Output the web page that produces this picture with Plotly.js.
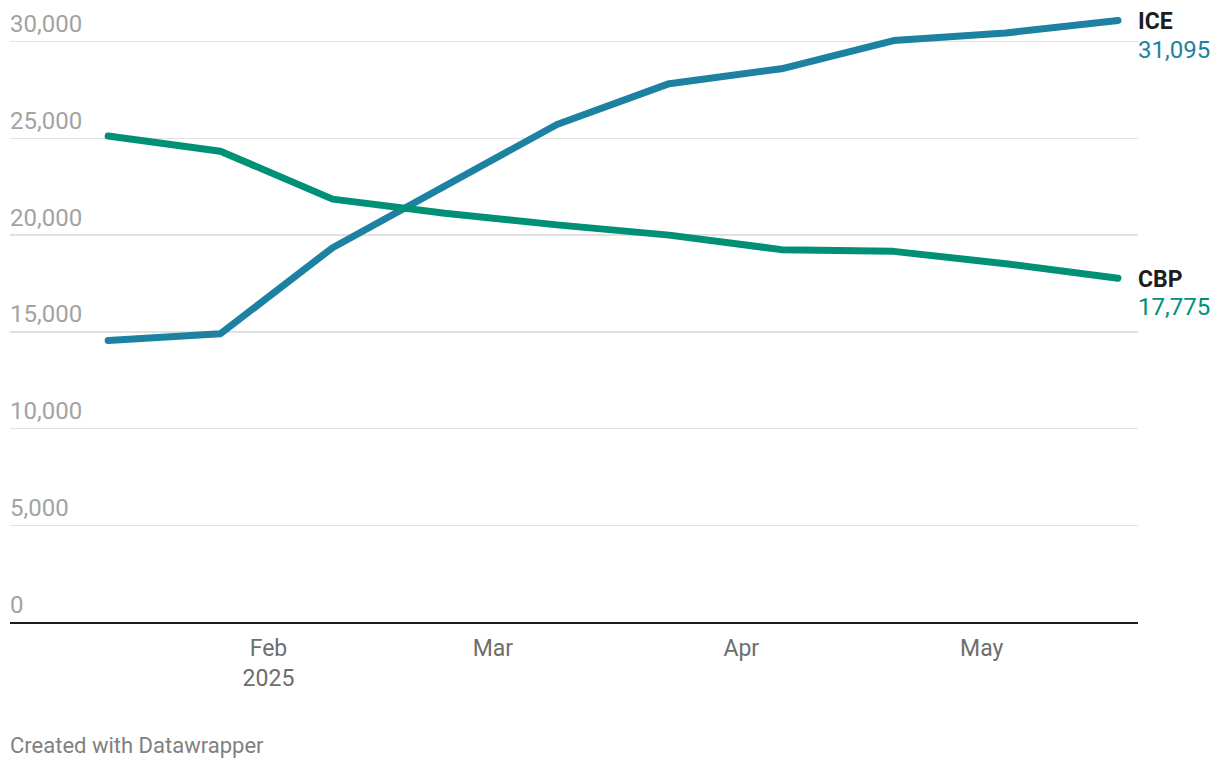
<!DOCTYPE html>
<html>
<head>
<meta charset="utf-8">
<script src="https://cdn.plot.ly/plotly-3.0.1.min.js"></script>
<style>
  html, body { margin: 0; padding: 0; background: #ffffff; }
  #chart { width: 1220px; height: 768px; }
</style>
</head>
<body>
<div id="chart"></div>
<script>
// Biweekly detention counts
const dates = ["2025-01-12", "2025-01-26", "2025-02-09", "2025-02-23", "2025-03-09",
               "2025-03-23", "2025-04-06", "2025-04-20", "2025-05-04", "2025-05-18"];
const iceValues = [14550, 14900, 19350, 22500, 25720, 27830, 28600, 30060, 30450, 31095];
const cbpValues = [25120, 24340, 21860, 21130, 20530, 20000, 19250, 19160, 18520, 17775];

const seriesNames = ["ICE", "CBP"];
const seriesColors = ["#1d81a2", "#009076"];

const yTickVals = [0, 5000, 10000, 15000, 20000, 25000, 30000];
const yTickText = ["0", "5,000", "10,000", "15,000", "20,000", "25,000", "30,000"];
const xTickVals = ["2025-02-01", "2025-03-01", "2025-04-01", "2025-05-01"];
const xTickText = ["Feb<br>2025", "Mar", "Apr", "May"];

const footerText = "Created with Datawrapper";

const allValues = [iceValues, cbpValues];
const traces = allValues.map((vals, i) => ({
  type: "scatter",
  mode: "lines",
  x: dates,
  y: vals,
  name: seriesNames[i],
  line: { color: seriesColors[i], width: 7 },
  hoverinfo: "skip"
}));

const fmt = v => v.toLocaleString("en-US");

const annotations = [];
allValues.forEach((vals, i) => {
  const last = vals[vals.length - 1];
  annotations.push({
    xref: "paper", yref: "y", x: 1, y: last,
    xanchor: "left", yanchor: "middle", xshift: -2, yshift: -1,
    text: "<b>" + seriesNames[i] + "</b>", showarrow: false,
    font: { family: "Roboto", size: 23, color: "#1d1d1d" }
  });
  annotations.push({
    xref: "paper", yref: "y", x: 1, y: last,
    xanchor: "left", yanchor: "middle", xshift: -2, yshift: -29,
    text: fmt(last), showarrow: false,
    font: { family: "Roboto", size: 24, color: seriesColors[i] }
  });
});
annotations.push({
  xref: "paper", yref: "paper", x: 0, y: 0,
  xanchor: "left", yanchor: "middle", xshift: -2, yshift: -123,
  text: footerText, showarrow: false,
  font: { family: "Roboto", size: 22, color: "#808080" }
});

const layout = {
  width: 1220, height: 768,
  margin: { l: 10, r: 82, t: 3, b: 146 },
  paper_bgcolor: "#ffffff", plot_bgcolor: "#ffffff",
  showlegend: false,
  font: { family: "Roboto", color: "#6e6e6e" },
  xaxis: {
    type: "date",
    range: ["2024-12-30 18:00", "2025-05-20 12:00"],
    tickmode: "array", tickvals: xTickVals, ticktext: xTickText,
    showgrid: false, zeroline: false,
    showline: true, linecolor: "#1d1d1d", linewidth: 2,
    ticks: "outside", ticklen: 4, tickcolor: "rgba(0,0,0,0)",
    tickfont: { family: "Roboto", size: 23, color: "#6e6e6e" },
    fixedrange: true
  },
  yaxis: {
    range: [0, 32000],
    tickmode: "array", tickvals: yTickVals, ticktext: yTickText,
    ticklabelposition: "inside top",
    ticklabelstandoff: -3,
    ticklabelshift: -1,
    showgrid: true, gridcolor: "#e1e1e1", gridwidth: 1.5,
    zeroline: false, showline: false, ticks: "",
    tickfont: { family: "Roboto", size: 24, color: "#a3a3a3" },
    fixedrange: true
  },
  annotations: annotations
};

Plotly.newPlot("chart", traces, layout, { displayModeBar: false, staticPlot: true }).then(() => {
  document.querySelectorAll(".scatterlayer path.js-line").forEach(p => {
    p.style.strokeLinecap = "round";
    p.style.strokeLinejoin = "round";
  });
});
</script>
</body>
</html>
